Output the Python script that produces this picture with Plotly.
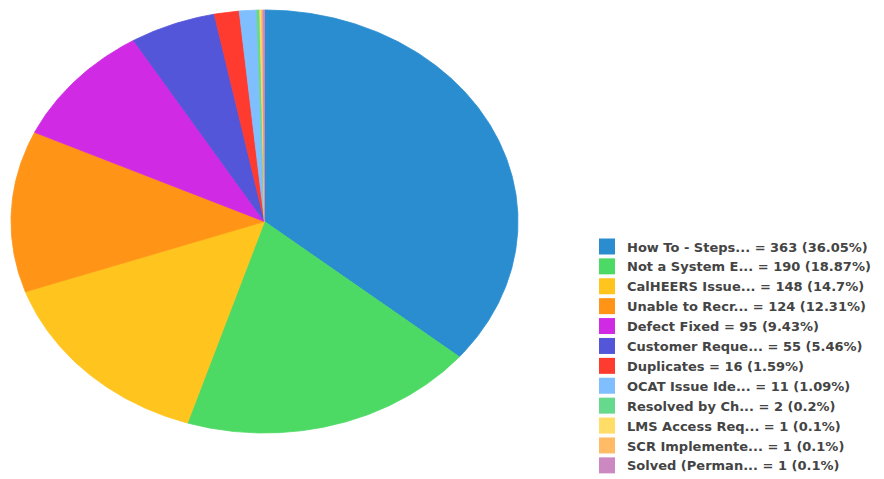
import numpy as np
import plotly.graph_objects as go

labels = ["How To - Steps...", "Not a System E...", "CalHEERS Issue...", "Unable to Recr...",
          "Defect Fixed", "Customer Reque...", "Duplicates", "OCAT Issue Ide...",
          "Resolved by Ch...", "LMS Access Req...", "SCR Implemente...", "Solved (Perman..."]
values = [363, 190, 148, 124, 95, 55, 16, 11, 2, 1, 1, 1]
colors = ["#2A8DD0", "#4CD964", "#FFC41E", "#FF9416", "#D02AE5", "#5356D8",
          "#FF3B30", "#80BFFF", "#66D98C", "#FFDD66", "#FFBB66", "#CC88C0"]

W, H = 884, 479
cx, cy, rx, ry = 264.5, 221.5, 253.5, 211.5

total = sum(values)
fig = go.Figure()
start = 0.0
for lab, v, c in zip(labels, values, colors):
    frac = v / total
    end = start + frac
    n = max(3, int(frac * 720))
    th = np.linspace(start, end, n) * 2 * np.pi
    xs = np.concatenate([[cx], cx + rx * np.sin(th), [cx]])
    ys = np.concatenate([[cy], cy - ry * np.cos(th), [cy]])
    fig.add_trace(go.Scatter(x=xs, y=ys, mode="lines", fill="toself", fillcolor=c,
                             line=dict(color=c, width=0.8), showlegend=False,
                             hoverinfo="skip", legendgroup=lab))
    start = end

for lab, v, c in zip(labels, values, colors):
    pct = f"{round(v / total * 100, 2):g}"
    fig.add_trace(go.Scatter(x=[None], y=[None], mode="markers",
                             marker=dict(symbol="square", size=16, color=c),
                             name=f"{lab} = {v} ({pct}%)", legendgroup=lab))

fig.update_layout(
    width=W, height=H,
    margin=dict(l=0, r=0, t=0, b=0, autoexpand=False),
    paper_bgcolor="white", plot_bgcolor="white",
    xaxis=dict(range=[0, W], visible=False, fixedrange=True),
    yaxis=dict(range=[H, 0], visible=False, fixedrange=True),
    showlegend=True,
    legend=dict(x=587 / W, y=1 - 231.5 / H, xanchor="left", yanchor="top",
                font=dict(family="DejaVu Sans", size=13, color="#444444", weight="bold"),
                tracegroupgap=0, itemsizing="trace"),
)
fig.write_html("out.html")
